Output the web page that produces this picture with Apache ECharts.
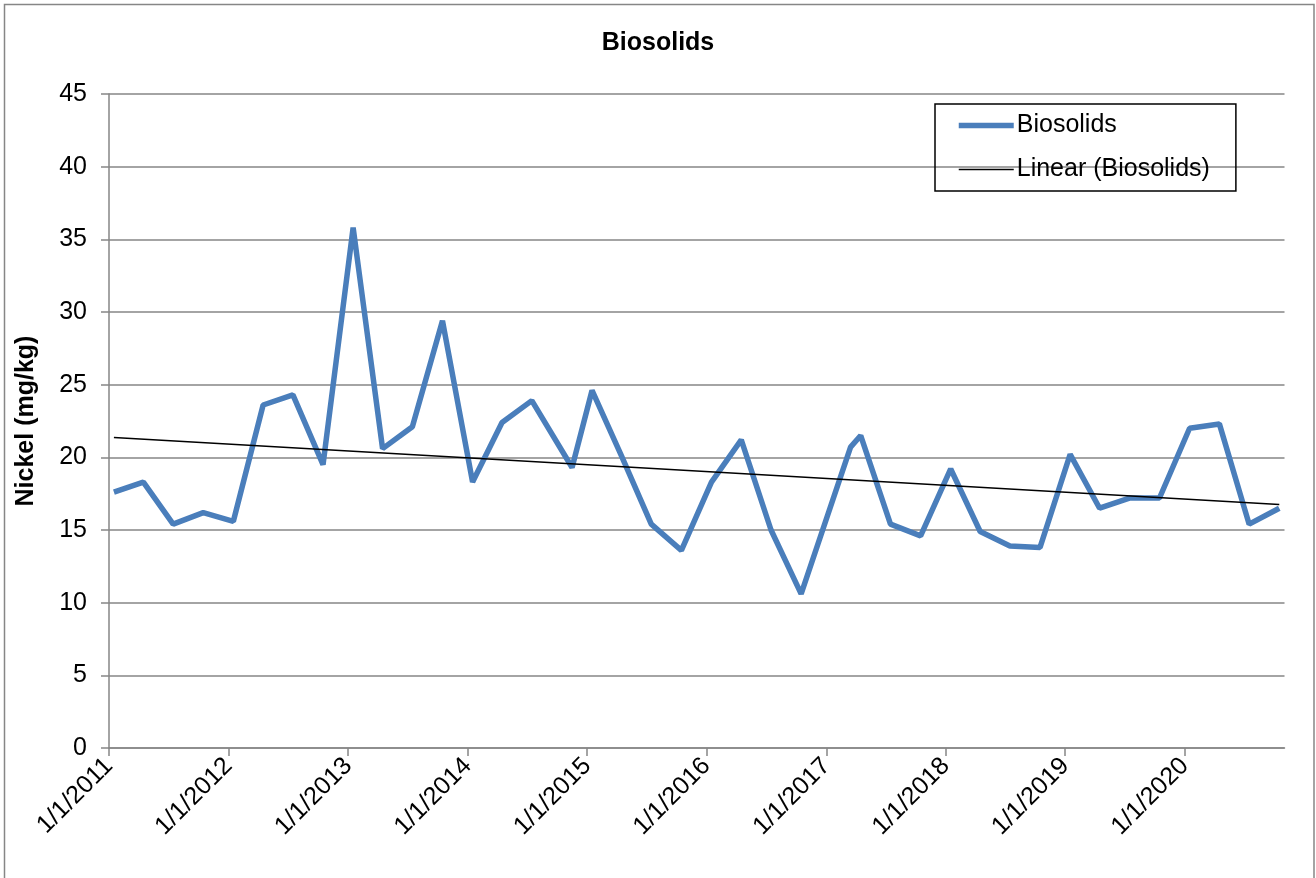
<!DOCTYPE html>
<html><head><meta charset="utf-8">
<script src="https://cdn.jsdelivr.net/npm/echarts@6/dist/echarts.min.js"></script>
<style>html,body{margin:0;padding:0;background:#fff}#c{width:1316px;height:878px}</style>
</head><body><div id="c"></div>
<script>
// ---- data ----
const sampleDates = [
  '2011-01-16','2011-04-16','2011-07-16','2011-10-16',
  '2012-01-16','2012-04-16','2012-07-16','2012-10-16',
  '2013-01-16','2013-04-16','2013-07-16','2013-10-16',
  '2014-01-16','2014-04-16','2014-07-16','2014-11-16',
  '2015-01-16','2015-04-16','2015-07-16','2015-10-16',
  '2016-01-16','2016-04-16','2016-07-16','2016-10-16',
  '2017-03-16','2017-04-16','2017-07-16','2017-10-16',
  '2018-01-16','2018-04-16','2018-07-16','2018-10-16',
  '2019-01-16','2019-04-16','2019-07-16','2019-10-16',
  '2020-01-16','2020-04-16','2020-07-16','2020-10-16'
];
const nickelValues = [
  17.6, 18.3, 15.4, 16.2,
  15.6, 23.6, 24.3, 19.5,
  35.8, 20.6, 22.1, 29.4,
  18.3, 22.4, 23.9, 19.3,
  24.6, 20.1, 15.4, 13.6,
  18.3, 21.2, 15.0, 10.6,
  20.7, 21.5, 15.4, 14.6,
  19.2, 14.9, 13.9, 13.8,
  20.2, 16.5, 17.2, 17.2,
  22.0, 22.3, 15.4, 16.5
];
const yearTickDates = ['2011-01-01','2012-01-01','2013-01-01','2014-01-01','2015-01-01',
  '2016-01-01','2017-01-01','2018-01-01','2019-01-01','2020-01-01'];
const axisStartDate = '2011-01-01';
const axisEndDate = '2020-11-01';

// ---- helpers ----
function ts(s){const p=s.split('-').map(Number);return new Date(p[0],p[1]-1,p[2]).getTime();}
function fmt(v){const d=new Date(v);return (d.getMonth()+1)+'/'+d.getDate()+'/'+d.getFullYear();}

const xs = sampleDates.map(ts);
const seriesData = xs.map((x,i)=>[x, nickelValues[i]]);
// least-squares linear trend (Excel "Linear" trendline)
const n = xs.length;
const mx = xs.reduce((a,b)=>a+b,0)/n, my = nickelValues.reduce((a,b)=>a+b,0)/n;
let sxy=0, sxx=0;
for(let i=0;i<n;i++){sxy+=(xs[i]-mx)*(nickelValues[i]-my);sxx+=(xs[i]-mx)*(xs[i]-mx);}
const slope = sxy/sxx, icpt = my - slope*mx;
const trendData = [[xs[0], icpt+slope*xs[0]],[xs[n-1], icpt+slope*xs[n-1]]];
const yearTicks = yearTickDates.map(ts);

const FONT = '"Liberation Sans", Arial, sans-serif';
const chart = echarts.init(document.getElementById('c'), null, {renderer:'canvas'});
chart.setOption({
  animation:false,
  backgroundColor:'#ffffff',
  textStyle:{fontFamily:FONT},
  title:{text:'Biosolids', left:'center', top:31, padding:0,
    textStyle:{fontFamily:FONT, fontSize:25, fontWeight:'bold', color:'#000'}},
  grid:{left:109, right:31.5, top:94, bottom:130, containLabel:false},
  legend:{
    orient:'vertical', left:935, top:104,
    padding:[9,26,9,21], itemGap:19, itemWidth:55, itemHeight:25,
    borderColor:'#000', borderWidth:1.5, borderRadius:0,
    textStyle:{fontFamily:FONT, fontSize:25, color:'#000', padding:[0,0,0,-2]},
    lineStyle:{width:'inherit'},
    itemStyle:{opacity:0, borderWidth:0},
    data:['Biosolids','Linear (Biosolids)']
  },
  xAxis:{
    type:'value', min:ts(axisStartDate), max:ts(axisEndDate),
    axisLine:{lineStyle:{color:'#868686', width:1.5}},
    axisTick:{show:true, length:8, lineStyle:{color:'#868686', width:1.5},
      customValues: yearTicks},
    axisLabel:{rotate:45, fontSize:25, color:'#000', fontFamily:FONT, margin:14,
      customValues: yearTicks, formatter:fmt, hideOverlap:false,
      showMinLabel:true, showMaxLabel:true},
    splitLine:{show:false}, minorTick:{show:false}
  },
  yAxis:{
    type:'value', min:0, max:45, interval:5,
    name:'Nickel (mg/kg)', nameLocation:'middle', nameGap:70, nameRotate:90,
    nameTextStyle:{fontFamily:FONT, fontSize:25, fontWeight:'bold', color:'#000'},
    axisLine:{show:true, lineStyle:{color:'#868686', width:1.5}},
    axisTick:{show:true, length:8, lineStyle:{color:'#868686', width:1.5}},
    axisLabel:{fontSize:25, color:'#000', fontFamily:FONT, margin:22},
    splitLine:{show:true, lineStyle:{color:'#868686', width:1.5}}
  },
  series:[
    {name:'Biosolids', type:'line', data:seriesData, showSymbol:false, symbol:'none',
      lineStyle:{color:'#4A7EBB', width:5.5}, itemStyle:{color:'#4A7EBB'}, z:3},
    {name:'Linear (Biosolids)', type:'line', data:trendData, showSymbol:false, symbol:'none',
      lineStyle:{color:'#000', width:1.5}, itemStyle:{color:'#000'}, z:4}
  ],
  graphic:[{type:'rect', shape:{x:4.5, y:4.5, width:1309.5, height:900},
    style:{fill:null, stroke:'#868686', lineWidth:1.5}, silent:true, z:-1}]
});
</script></body></html>
